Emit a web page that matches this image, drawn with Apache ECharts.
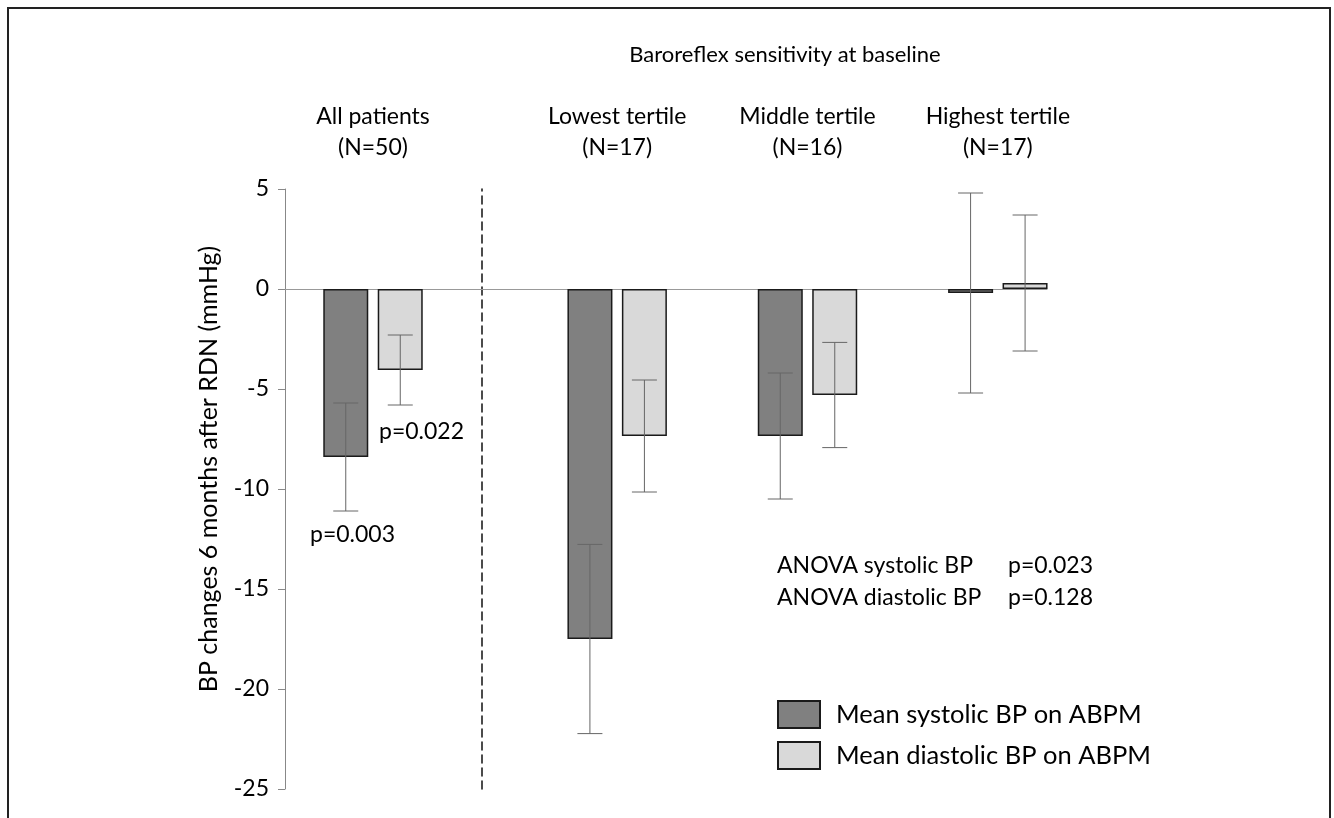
<!DOCTYPE html>
<html>
<head>
<meta charset="utf-8">
<script src="https://cdn.jsdelivr.net/npm/echarts@6/dist/echarts.min.js"></script>
<style>
html,body{margin:0;padding:0;background:#fff;}
#chart{width:1334px;height:818px;}
</style>
</head>
<body>
<div id="chart"></div>
<script>
// ---- data ----
const allLabel = ['All patients\n(N=50)'];
const tertileLabels = ['Lowest tertile\n(N=17)', 'Middle tertile\n(N=16)', 'Highest tertile\n(N=17)'];
const systolicAll = [-8.4];
const systolicAllErr = [2.7];
const diastolicAll = [-4.05];
const diastolicAllErr = [1.75];
const systolicTertile = [-17.5, -7.35, -0.2];
const systolicTertileErr = [4.73, 3.15, 5.0];
const diastolicTertile = [-7.35, -5.3, 0.3];
const diastolicTertileErr = [2.8, 2.63, 3.4];
const yTicks = { min: -25, max: 5, interval: 5 };
const seriesNames = ['Mean systolic BP on ABPM', 'Mean diastolic BP on ABPM'];

const FONT = 'Lato';
const TXT = '#000';
const sysColor = '#808080', diaColor = '#d9d9d9', edge = '#1a1a1a';

function errData(means, errs) { return means.map((m, i) => [i, m, errs[i]]); }
function errRender(offset) {
  return function (params, api) {
    const c = api.value(0), m = api.value(1), e = api.value(2);
    const t = api.coord([c, m + e]);
    const b = api.coord([c, m - e]);
    const x = t[0] + offset, hw = 12.5;
    const st = { stroke: '#666', lineWidth: 1 };
    return { type: 'group', children: [
      { type: 'line', shape: { x1: x, y1: t[1], x2: x, y2: b[1] }, style: st },
      { type: 'line', shape: { x1: x - hw, y1: t[1], x2: x + hw, y2: t[1] }, style: st },
      { type: 'line', shape: { x1: x - hw, y1: b[1], x2: x + hw, y2: b[1] }, style: st }
    ]};
  };
}
const OFF = 27.25;

const yBase = { type: 'value', min: yTicks.min, max: yTicks.max, interval: yTicks.interval, splitLine: { show: false } };
const catLabel = { show: true, margin: 26, color: TXT, fontFamily: FONT, fontSize: 23, lineHeight: 31 };

const barCommon = { type: 'bar', barWidth: 45, barGap: '21%', clip: false, z: 3 };

const chart = echarts.init(document.getElementById('chart'));
chart.setOption({
  animation: false,
  backgroundColor: '#fff',
  grid: [
    { left: 285, width: 176, top: 189, bottom: 29 },
    { left: 522, right: 241, top: 189, bottom: 29 },
    { left: 285, right: 287, top: 189, bottom: 29 }
  ],
  xAxis: [
    { type: 'category', gridIndex: 0, data: allLabel, position: 'top', axisLine: { show: false }, axisTick: { show: false }, axisLabel: catLabel },
    { type: 'category', gridIndex: 1, data: tertileLabels, position: 'top', axisLine: { show: false }, axisTick: { show: false }, axisLabel: catLabel },
    { type: 'value', gridIndex: 2, min: 0, max: 1, axisLine: { show: true, onZero: true, lineStyle: { color: '#999', width: 1 } }, axisTick: { show: false }, axisLabel: { show: false }, splitLine: { show: false } }
  ],
  yAxis: [
    Object.assign({}, yBase, {
      gridIndex: 0,
      name: 'BP changes 6 months after RDN (mmHg)',
      nameLocation: 'middle', nameGap: 64, nameRotate: 90,
      nameTextStyle: { color: TXT, fontFamily: FONT, fontSize: 25, padding: [0, 0, 0, 40] },
      axisLine: { show: true, lineStyle: { color: '#888', width: 1 } },
      axisTick: { show: true, length: 7, lineStyle: { color: '#888' } },
      axisLabel: { color: TXT, fontFamily: FONT, fontSize: 23, margin: 16 }
    }),
    Object.assign({}, yBase, {
      gridIndex: 0, position: 'right', offset: 21,
      axisLine: { show: true, lineStyle: { color: '#111', width: 1.5, type: [8, 5] } },
      axisTick: { show: false }, axisLabel: { show: false }
    }),
    Object.assign({}, yBase, { gridIndex: 1, show: false }),
    Object.assign({}, yBase, { gridIndex: 2, show: false })
  ],
  legend: {
    data: seriesNames,
    orient: 'vertical', left: 777, top: 700, padding: 0,
    itemWidth: 42, itemHeight: 27, itemGap: 12,
    icon: 'rect',
    textStyle: { color: TXT, fontFamily: FONT, fontSize: 25.5, padding: [0, 0, 0, 11] }
  },
  series: [
    Object.assign({}, barCommon, { name: seriesNames[0], xAxisIndex: 0, yAxisIndex: 0, data: systolicAll,
      itemStyle: { color: sysColor, borderColor: edge, borderWidth: 1.5 } }),
    Object.assign({}, barCommon, { name: seriesNames[1], xAxisIndex: 0, yAxisIndex: 0, data: diastolicAll,
      itemStyle: { color: diaColor, borderColor: edge, borderWidth: 1.5 } }),
    Object.assign({}, barCommon, { name: seriesNames[0], xAxisIndex: 1, yAxisIndex: 2, data: systolicTertile,
      itemStyle: { color: sysColor, borderColor: edge, borderWidth: 1.5 } }),
    Object.assign({}, barCommon, { name: seriesNames[1], xAxisIndex: 1, yAxisIndex: 2, data: diastolicTertile,
      itemStyle: { color: diaColor, borderColor: edge, borderWidth: 1.5 } }),
    { type: 'custom', name: 'errSysAll', xAxisIndex: 0, yAxisIndex: 0, z: 5, renderItem: errRender(-OFF), data: errData(systolicAll, systolicAllErr) },
    { type: 'custom', name: 'errDiaAll', xAxisIndex: 0, yAxisIndex: 0, z: 5, renderItem: errRender(OFF), data: errData(diastolicAll, diastolicAllErr) },
    { type: 'custom', name: 'errSysT', xAxisIndex: 1, yAxisIndex: 2, z: 5, renderItem: errRender(-OFF), data: errData(systolicTertile, systolicTertileErr) },
    { type: 'custom', name: 'errDiaT', xAxisIndex: 1, yAxisIndex: 2, z: 5, renderItem: errRender(OFF), data: errData(diastolicTertile, diastolicTertileErr) }
  ],
  graphic: [
    { type: 'rect', shape: { x: 8, y: 8, width: 1322, height: 900 }, style: { fill: 'none', stroke: '#222', lineWidth: 2 }, silent: true },
    { type: 'text', x: 785, y: 55, style: { text: 'Baroreflex sensitivity at baseline', fill: TXT, font: '22px ' + FONT, textAlign: 'center', textVerticalAlign: 'middle' } },
    { type: 'text', x: 379, y: 432, style: { text: 'p=0.022', fill: TXT, font: '23px ' + FONT, textAlign: 'left', textVerticalAlign: 'middle' } },
    { type: 'text', x: 310, y: 535, style: { text: 'p=0.003', fill: TXT, font: '23px ' + FONT, textAlign: 'left', textVerticalAlign: 'middle' } },
    { type: 'text', x: 777, y: 566, style: { text: 'ANOVA systolic BP', fill: TXT, font: '23px ' + FONT, textAlign: 'left', textVerticalAlign: 'middle' } },
    { type: 'text', x: 1008, y: 566, style: { text: 'p=0.023', fill: TXT, font: '23px ' + FONT, textAlign: 'left', textVerticalAlign: 'middle' } },
    { type: 'text', x: 777, y: 598, style: { text: 'ANOVA diastolic BP', fill: TXT, font: '23px ' + FONT, textAlign: 'left', textVerticalAlign: 'middle' } },
    { type: 'text', x: 1008, y: 598, style: { text: 'p=0.128', fill: TXT, font: '23px ' + FONT, textAlign: 'left', textVerticalAlign: 'middle' } }
  ]
});
</script>
</body>
</html>
